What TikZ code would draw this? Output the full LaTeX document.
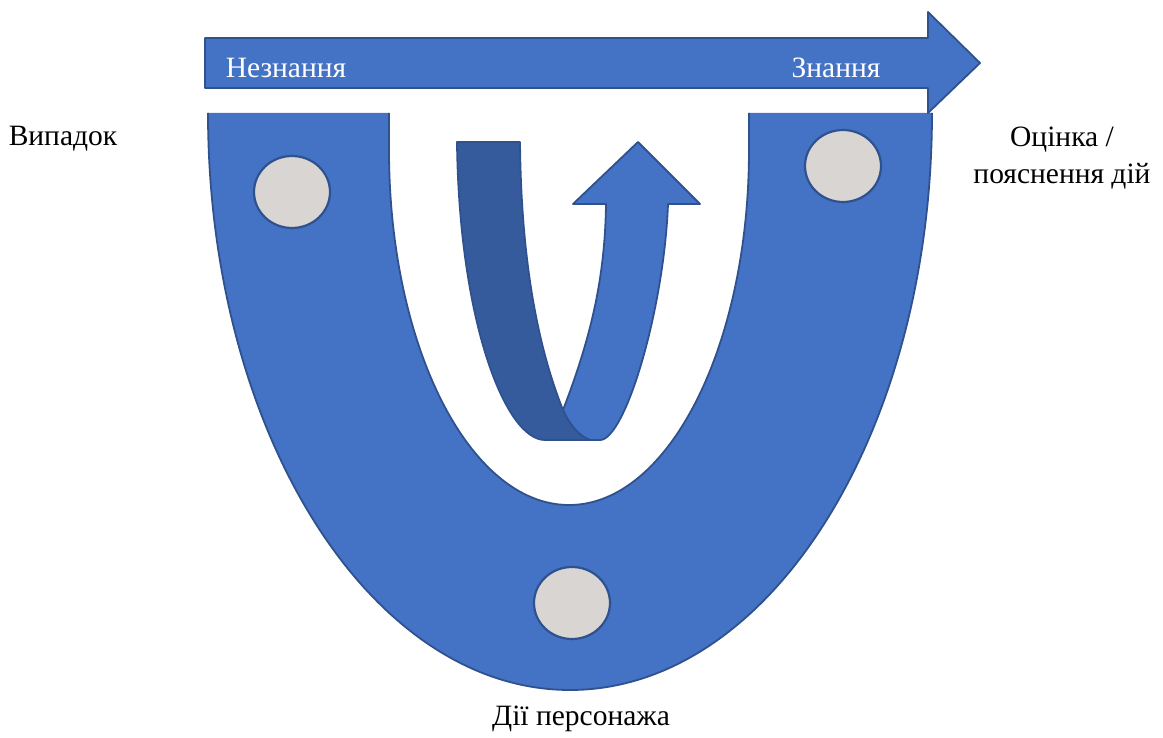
\documentclass[tikz,border=0pt]{standalone}
\usepackage{fontspec}
\setmainfont{Liberation Serif}
\usetikzlibrary{shapes.geometric}
\definecolor{ublue}{RGB}{68,114,196}
\definecolor{uedge}{RGB}{47,82,143}
\definecolor{udark}{RGB}{54,91,157}
\definecolor{ugray}{RGB}{217,213,210}
\begin{document}
\begin{tikzpicture}[x=1pt,y=-1pt,
  shapefill/.style={fill=ublue,draw=uedge,line width=1.8pt,line join=round},
  dot/.style={ellipse,fill=ugray,draw=uedge,line width=2.2pt,minimum width=76pt,minimum height=72pt,inner sep=0pt},
  lbl/.style={font=\fontsize{29.5}{37}\selectfont,text=black,inner sep=0pt,align=center},
  wlbl/.style={font=\fontsize{29.5}{37}\selectfont,text=white,inner sep=0pt}]
\useasboundingbox (0,0) rectangle (1163,738);
% U band
\fill[ublue] (208,113) arc[start angle=180,end angle=0,x radius=362,y radius=577]
  -- (749,113) -- (749,150) arc[start angle=0,end angle=180,x radius=180,y radius=355]
  -- (389,113) -- cycle;
\draw[uedge,line width=1.8pt] (208,113) arc[start angle=180,end angle=0,x radius=362,y radius=577];
\draw[uedge,line width=1.8pt] (749,113) -- (749,150) arc[start angle=0,end angle=180,x radius=180,y radius=355] -- (389,113);
% top arrow
\draw[shapefill] (205,38) -- (928,38) -- (928,12) -- (980,63) -- (928,113) -- (928,88) -- (205,88) -- cycle;
\node[wlbl] (ignorance) at (286,68) {Незнання};
\node[wlbl] (knowledge) at (836,68) {Знання};
% inner U-turn arrow: light part
\draw[shapefill] (563,410) .. controls (590,340) and (605,280) .. (606,204)
  -- (573,204) -- (638,142) -- (700,204) -- (668,204)
  .. controls (664,310) and (625,440) .. (600,440) -- (590,440)
  .. controls (578,436) and (568,422) .. (563,410) -- cycle;
% dark part
\draw[shapefill,fill=udark] (457,142) -- (520,142)
  .. controls (521,250) and (535,340) .. (563,410)
  .. controls (568,422) and (578,436) .. (590,440) -- (545,440)
  .. controls (505,440) and (459,320) .. (457,142) -- cycle;
% circles
\node[dot] (c1) at (292,192) {};
\node[dot] (c2) at (843,166) {};
\node[dot] (c3) at (572,603) {};
% labels
\node[lbl] (case) at (63,139) {Випадок};
\node[lbl] (eval) at (1062,158) {Оцінка /\\пояснення дій};
\node[lbl] (acts) at (581,719) {Дії персонажа};
\end{tikzpicture}
\end{document}
